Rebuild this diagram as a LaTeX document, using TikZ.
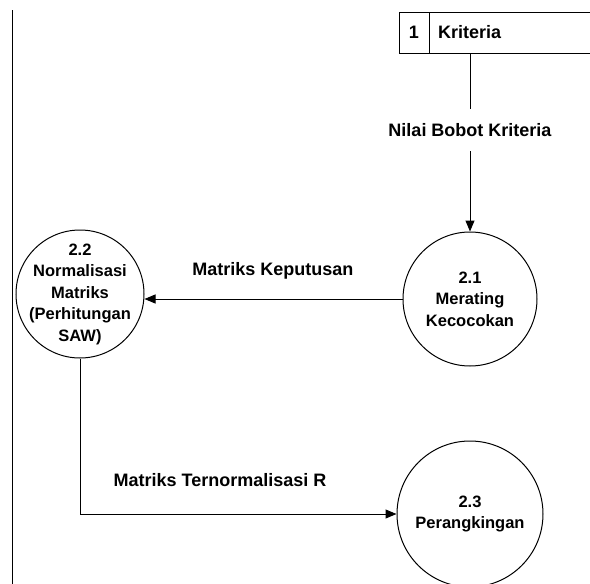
\documentclass[tikz,border=0pt]{standalone}
\usepackage{fontspec}
\setmainfont{Liberation Sans}
\usetikzlibrary{arrows.meta}

\tikzset{
  flow/.style={line width=1pt, -{Triangle[length=11pt,width=9pt]}},
  process/.style={circle, draw, line width=1pt, minimum size=#1, inner sep=0pt},
  proctext/.style={align=center, font=\bfseries\fontsize{16.5}{21.5}\selectfont},
  flowlabel/.style={fill=white, font=\bfseries\fontsize{18}{21}\selectfont}
}

\begin{document}
\begin{tikzpicture}[x=1pt, y=-1pt]
        \useasboundingbox (0,0) rectangle (590,584);

        % Border line on the left
        \draw[line width=1pt] (12,10) -- (12,584);

        % Data store
        \draw[line width=1pt] (590,12) -- (399,12) -- (399,53) -- (590,53);
        \draw[line width=1pt] (429,12) -- (429,53);
        \node[flowlabel, inner sep=1pt] (storeid) at (414,32.5) {1};
        \node[flowlabel, inner sep=1pt, anchor=west] (kriteria) at (437,32.5) {Kriteria};
        \coordinate (storeout) at (470,53);

        % Processes
        \node[process=134] (p21) at (470,299) {};
        \node[proctext] (p21t) at (p21) {2.1\\Merating\\Kecocokan};
        \node[process=128] (p22) at (80,294) {};
        \node[proctext] (p22t) at (p22) {2.2\\Normalisasi\\Matriks\\(Perhitungan\\SAW)};
        \node[process=146] (p23) at (470,514) {};
        \node[proctext] (p23t) at (p23) {2.3\\Perangkingan};

        % Flows
        \draw[flow] (storeout) -- (p21.north);
        \draw[flow] (p21.west) -- (p21.west -| p22.east);
        \draw[flow] (p22.south) |- (p23.west);

        % Labels
        \node[flowlabel, inner ysep=14pt] (lbobot) at (470,130) {Nilai Bobot Kriteria};
        \node[flowlabel] (lkeputusan) at (273,271) {Matriks Keputusan};
        \node[flowlabel] (lnormal) at (220,480) {Matriks Ternormalisasi R};
\end{tikzpicture}
\end{document}
